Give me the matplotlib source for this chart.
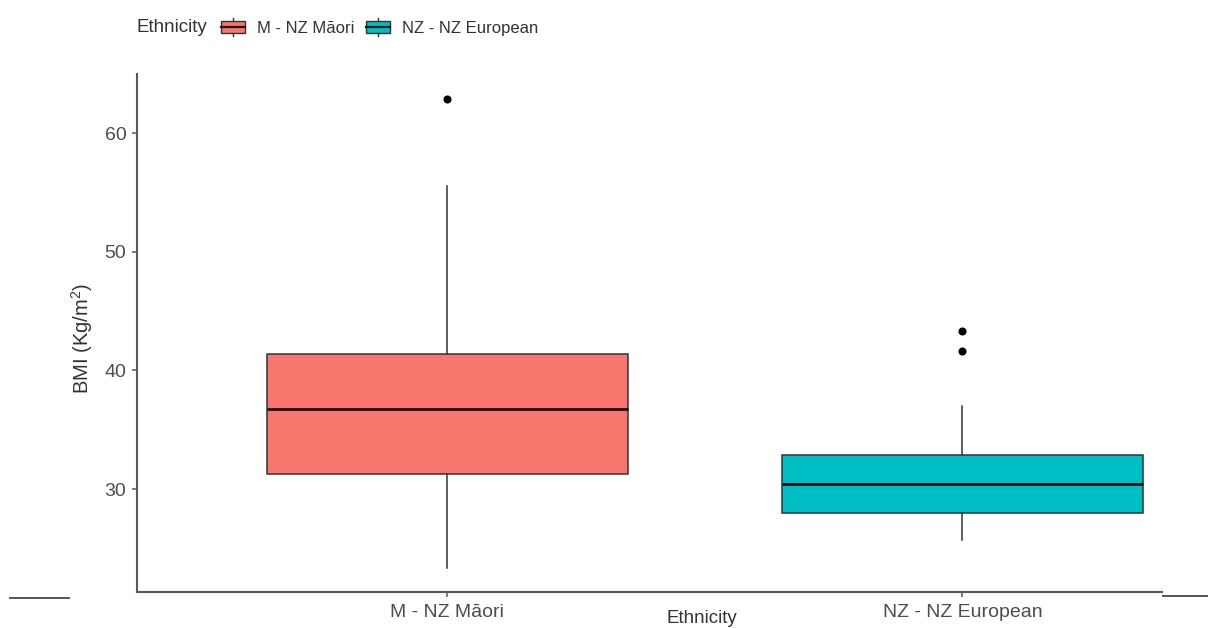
import matplotlib
matplotlib.use('Agg')
import matplotlib.pyplot as plt
from matplotlib.legend_handler import HandlerBase
from matplotlib.patches import Rectangle, Patch
from matplotlib.lines import Line2D

plt.rcParams['font.family'] = ['Liberation Sans', 'DejaVu Sans']
plt.rcParams['mathtext.default'] = 'regular'

# BMI summary per ethnic group
groups = ['M - NZ Māori', 'NZ - NZ European']
colors = ['#F8766D', '#00BFC4']
q1 = [31.3, 27.95]
med = [36.75, 30.4]
q3 = [41.35, 32.85]
whislo = [23.3, 25.7]
whishi = [55.55, 37.0]
outliers = [[62.9], [41.6, 43.35]]

edge = '#333333'
axis_grey = '#5a5a5a'
text_grey = '#4D4D4D'


class BoxKey(HandlerBase):
    # little boxplot glyph for the legend keys
    def create_artists(self, legend, orig_handle, xdescent, ydescent,
                       width, height, fontsize, trans):
        x0, y0 = -xdescent, -ydescent
        cx = x0 + width / 2
        box = Rectangle((x0, y0 + 0.15 * height), width, 0.7 * height,
                        facecolor=orig_handle.get_facecolor(), edgecolor=edge,
                        linewidth=1.0, transform=trans)
        mid = Line2D([x0, x0 + width], [y0 + height / 2] * 2, color='#1a1a1a',
                     linewidth=1.6, transform=trans)
        top = Line2D([cx, cx], [y0 + 0.85 * height, y0 + 1.0 * height],
                     color=edge, linewidth=1.0, transform=trans)
        bot = Line2D([cx, cx], [y0, y0 + 0.15 * height],
                     color=edge, linewidth=1.0, transform=trans)
        return [box, mid, top, bot]


W, H = 1208, 628
fig = plt.figure(figsize=(W / 100, H / 100), dpi=100)
ax = fig.add_axes([136.7 / W, 1 - 591.7 / H, 1025 / W, 517.7 / H])

stats = []
for i in range(len(groups)):
    stats.append({'label': groups[i], 'q1': q1[i], 'med': med[i], 'q3': q3[i],
                  'whislo': whislo[i], 'whishi': whishi[i], 'fliers': outliers[i]})

bp = ax.bxp(stats, positions=[1, 2], widths=0.7, patch_artist=True,
            showcaps=False,
            boxprops=dict(edgecolor=edge, linewidth=1.1),
            whiskerprops=dict(color=edge, linewidth=1.1),
            medianprops=dict(color='#111111', linewidth=2.0),
            flierprops=dict(marker='o', markersize=4.8, markerfacecolor='black',
                            markeredgecolor='black'))
for patch, c in zip(bp['boxes'], colors):
    patch.set_facecolor(c)

ax.set_xlim(0.3965, 2.387)
ax.set_ylim(21.34, 65.0)
ax.set_yticks([30, 40, 50, 60])

for s in ['top', 'right']:
    ax.spines[s].set_visible(False)
for s in ['left', 'bottom']:
    ax.spines[s].set_color(axis_grey)
    ax.spines[s].set_linewidth(1.5)

ax.tick_params(axis='both', length=3.5, width=1.1, color=axis_grey,
               labelsize=14, labelcolor=text_grey, pad=4)
ax.tick_params(axis='x', pad=5)

ax.set_ylabel('BMI (Kg/m$^2$)', fontsize=14.5, color='#333333')
ax.yaxis.set_label_coords(-0.041, 0.49)
ax.set_xlabel('Ethnicity', fontsize=13.5, color='#333333')
ax.xaxis.set_label_coords((702 - 136.7) / 1025, -0.036)

# legend along the top
fig.text(137 / W, 1 - 28 / H, 'Ethnicity', fontsize=13.5, color='#333333',
         ha='left', va='center')
handles = [Patch(facecolor=c) for c in colors]
fig.legend(handles, groups, handler_map={Patch: BoxKey()}, ncol=2,
           loc='center left', bbox_to_anchor=(221 / W, 1 - 27 / H),
           frameon=False, fontsize=12, handlelength=1.45, handleheight=1.3,
           handletextpad=0.7, columnspacing=0.7, borderpad=0.0,
           borderaxespad=0.0, labelcolor='#333333')

# short rules at the page edges
fig.add_artist(Line2D([10 / W, 69 / W], [1 - 597.5 / H] * 2, color='#555555',
                      linewidth=1.4))
fig.add_artist(Line2D([1163 / W, 1208 / W], [1 - 596 / H] * 2, color='#555555',
                      linewidth=1.4))

fig.savefig('out.png', dpi=100, facecolor='white')
